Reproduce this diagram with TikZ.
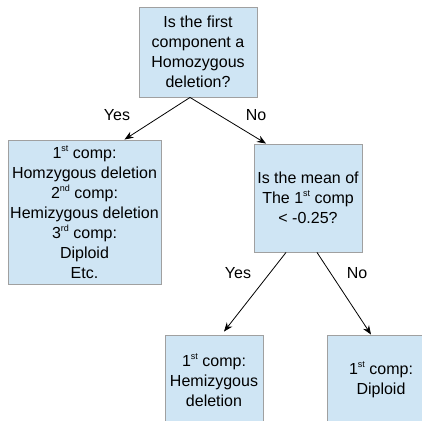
\documentclass[tikz,border=0pt]{standalone}
\usepackage{fontspec}
\setmainfont{Liberation Sans}
\usetikzlibrary{positioning, arrows.meta}
\definecolor{boxblue}{RGB}{207, 229, 244}
\definecolor{boxgray}{RGB}{160, 160, 160}
\newcommand{\ordsup}[1]{\raisebox{0.45em}{\fontsize{9}{9}\selectfont #1}}

\begin{document}
\begin{tikzpicture}[x=1pt, y=-1pt,
    decbox/.style={draw=boxgray, fill=boxblue, line width=0.9pt, align=center,
        inner sep=0pt, font=\fontsize{16}{20}\selectfont},
    branch/.style={-{Stealth[length=9pt, width=7pt]}, line width=0.8pt},
    lbl/.style={font=\fontsize{16}{20}\selectfont}]
    \clip (0,0) rectangle (422,420);
    \useasboundingbox (0,0) rectangle (422,420);

    % decision nodes
    \node[decbox, minimum width=118pt, minimum height=90pt] (root) at (198,52)
        {Is the first\\component a\\Homozygous\\deletion?};
    \node[decbox, minimum width=153pt, minimum height=144pt] (homo) at (84.5,212)
        {1\ordsup{st} comp:\\Homzygous deletion\\2\ordsup{nd} comp:\\Hemizygous deletion\\3\ordsup{rd} comp:\\Diploid\\Etc.};
    \node[decbox, minimum width=108pt, minimum height=108pt] (mean) at (308,198)
        {Is the mean of\\The 1\ordsup{st} comp\\< -0.25?};
    \node[decbox, minimum width=98pt, minimum height=90pt] (hemi) at (214,380)
        {1\ordsup{st} comp:\\Hemizygous\\deletion};
    \node[decbox, minimum width=108pt, minimum height=90pt] (dipl) at (381,380)
        {1\ordsup{st} comp:\\Diploid};

    % branches
    \draw[branch] ([xshift=-8pt]root.south) -- ([xshift=40pt]homo.north);
    \draw[branch] ([xshift=-8pt]root.south) -- ([xshift=-42pt]mean.north);
    \draw[branch] ([xshift=-22pt]mean.south) -- ([xshift=10pt, yshift=3pt]hemi.north);
    \draw[branch] ([xshift=9pt]mean.south) -- ([xshift=-10pt]dipl.north);

    \node[lbl] (yes1) at (117,115) {Yes};
    \node[lbl] (no1) at (256,115) {No};
    \node[lbl] (yes2) at (238,273) {Yes};
    \node[lbl] (no2) at (357,273) {No};
\end{tikzpicture}
\end{document}
